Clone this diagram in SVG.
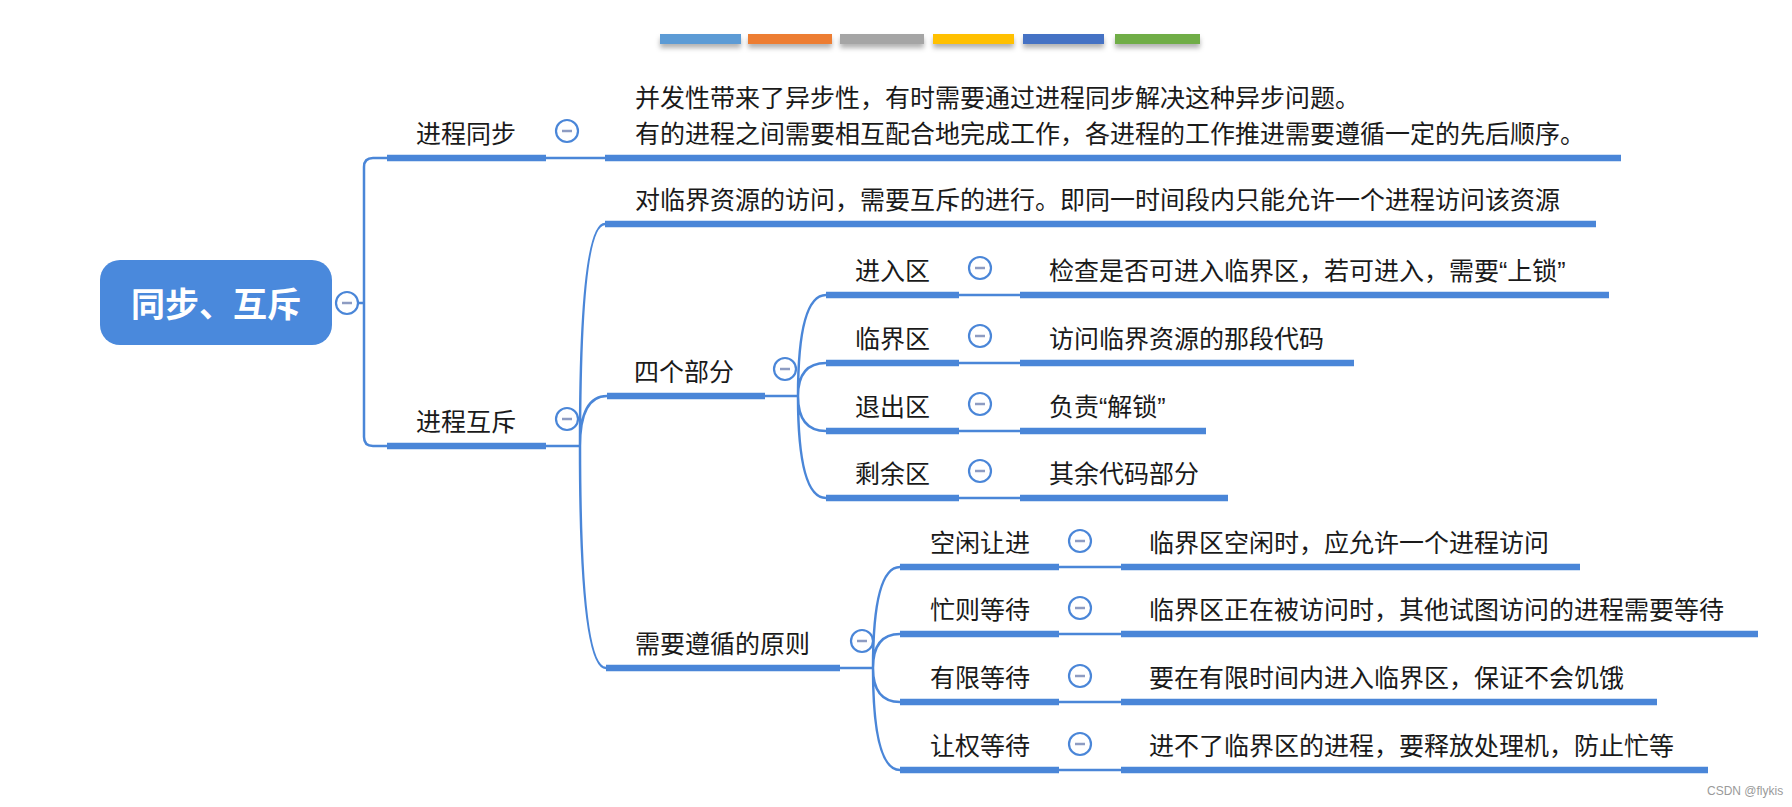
<svg xmlns="http://www.w3.org/2000/svg" width="1792" height="807" viewBox="0 0 1792 807">
<defs>
<filter id="sh" x="-10%" y="-50%" width="120%" height="250%">
<feDropShadow dx="0" dy="4" stdDeviation="2.5" flood-color="#000" flood-opacity="0.3"/>
</filter>
<g id="minus">
<circle r="11" fill="#fff" stroke="#4A86D8" stroke-width="2.2"/>
<line x1="-5" y1="0" x2="5" y2="0" stroke="#8E9CC2" stroke-width="2.5"/>
</g>
</defs>
<style>
.t{font-family:"Noto Sans CJK SC","Noto Sans",sans-serif;font-size:25px;fill:#1a1a1a}
.q{font-family:"Liberation Sans",Arial,sans-serif}
.root{font-family:"Noto Sans CJK SC","Noto Sans",sans-serif;font-size:34px;font-weight:bold;fill:#fff}
.thin{fill:none;stroke:#4A86D8;stroke-width:2.5}
.bar{stroke:#4A86D8;stroke-width:6.5;stroke-linecap:butt}
.wm{font-family:"Liberation Sans",Arial,sans-serif;font-size:12px;fill:#9a9a9a}
</style>
<rect width="1792" height="807" fill="#fff"/>

<g id="colorbars" filter="url(#sh)">
<rect x="660" y="34" width="81" height="10" fill="#5B9BD5"/>
<rect x="748" y="34" width="84" height="10" fill="#ED7D31"/>
<rect x="840" y="34" width="84" height="10" fill="#A5A5A5"/>
<rect x="933" y="34" width="81" height="10" fill="#FFC000"/>
<rect x="1023" y="34" width="81" height="10" fill="#4472C4"/>
<rect x="1115" y="34" width="85" height="10" fill="#70AD47"/>
</g>

<g id="connectors">
<path class="thin" d="M358,303 L364,303 M364,303 L364,167 Q364,158 373,158 L387,158 M364,303 L364,437 Q364,446 373,446 L387,446"/>
<path class="thin" d="M546,158 L605,158 M546,446 L580,446"/>
<path class="thin" d="M580,446 Q580,224 605,224 M580,446 Q580,396 607,396 M580,446 Q580,668 606,668"/>
<path class="thin" d="M765,396 L798,396 M798,396 Q798,295 826,295 M798,396 Q798,363 826,363 M798,396 Q798,431 826,431 M798,396 Q798,498 826,498"/>
<path class="thin" d="M959,295 L1020,295 M959,363 L1020,363 M959,431 L1020,431 M959,498 L1020,498"/>
<path class="thin" d="M840,668 L873,668 M873,668 Q873,567 900,567 M873,668 Q873,634 900,634 M873,668 Q873,702 900,702 M873,668 Q873,770 900,770"/>
<path class="thin" d="M1059,567 L1121,567 M1059,634 L1121,634 M1059,702 L1121,702 M1059,770 L1121,770"/>
</g>

<g id="root">
<rect x="100" y="260" width="232" height="85" rx="20" fill="#4A89DC"/>
<text class="root" x="216" y="317" text-anchor="middle">同步、互斥</text>
<use href="#minus" x="347" y="303"/>
</g>

<g id="n-sync">
<line class="bar" x1="387" y1="158" x2="546" y2="158"/>
<text class="t" x="466" y="142.5" text-anchor="middle">进程同步</text>
<use href="#minus" x="567" y="131"/>
</g>
<g id="n-sync-desc">
<line class="bar" x1="605" y1="158" x2="1621" y2="158"/>
<text class="t" x="635" y="107">并发性带来了异步性，有时需要通过进程同步解决这种异步问题。<tspan x="635" dy="36">有的进程之间需要相互配合地完成工作，各进程的工作推进需要遵循一定的先后顺序。</tspan></text>
</g>

<g id="n-mutex">
<line class="bar" x1="387" y1="446" x2="546" y2="446"/>
<text class="t" x="466" y="430.5" text-anchor="middle">进程互斥</text>
<use href="#minus" x="567" y="419"/>
</g>
<g id="n-mutex-desc">
<line class="bar" x1="605" y1="224" x2="1596" y2="224"/>
<text class="t" x="635" y="208.5">对临界资源的访问，需要互斥的进行。即同一时间段内只能允许一个进程访问该资源</text>
</g>

<g id="n-four">
<line class="bar" x1="607" y1="396" x2="765" y2="396"/>
<text class="t" x="634" y="380.5">四个部分</text>
<use href="#minus" x="785" y="369"/>
</g>
<g id="n-entry">
<line class="bar" x1="826" y1="295" x2="959" y2="295"/>
<text class="t" x="855" y="279.5">进入区</text>
<use href="#minus" x="980" y="268"/>
</g>
<g id="n-entry-desc">
<line class="bar" x1="1020" y1="295" x2="1609" y2="295"/>
<text class="t" x="1049" y="279.5">检查是否可进入临界区，若可进入，需要<tspan class="q">“</tspan>上锁<tspan class="q">”</tspan></text>
</g>
<g id="n-critical">
<line class="bar" x1="826" y1="363" x2="959" y2="363"/>
<text class="t" x="855" y="347.5">临界区</text>
<use href="#minus" x="980" y="336"/>
</g>
<g id="n-critical-desc">
<line class="bar" x1="1020" y1="363" x2="1354" y2="363"/>
<text class="t" x="1049" y="347.5">访问临界资源的那段代码</text>
</g>
<g id="n-exit">
<line class="bar" x1="826" y1="431" x2="959" y2="431"/>
<text class="t" x="855" y="415.5">退出区</text>
<use href="#minus" x="980" y="404"/>
</g>
<g id="n-exit-desc">
<line class="bar" x1="1020" y1="431" x2="1206" y2="431"/>
<text class="t" x="1049" y="415.5">负责<tspan class="q">“</tspan>解锁<tspan class="q">”</tspan></text>
</g>
<g id="n-remainder">
<line class="bar" x1="826" y1="498" x2="959" y2="498"/>
<text class="t" x="855" y="482.5">剩余区</text>
<use href="#minus" x="980" y="471"/>
</g>
<g id="n-remainder-desc">
<line class="bar" x1="1020" y1="498" x2="1228" y2="498"/>
<text class="t" x="1049" y="482.5">其余代码部分</text>
</g>

<g id="n-rules">
<line class="bar" x1="606" y1="668" x2="840" y2="668"/>
<text class="t" x="635" y="652.5">需要遵循的原则</text>
<use href="#minus" x="862" y="641"/>
</g>
<g id="n-idle">
<line class="bar" x1="900" y1="567" x2="1059" y2="567"/>
<text class="t" x="930" y="551.5">空闲让进</text>
<use href="#minus" x="1080" y="541"/>
</g>
<g id="n-idle-desc">
<line class="bar" x1="1121" y1="567" x2="1580" y2="567"/>
<text class="t" x="1149" y="551.5">临界区空闲时，应允许一个进程访问</text>
</g>
<g id="n-busy">
<line class="bar" x1="900" y1="634" x2="1059" y2="634"/>
<text class="t" x="930" y="618.5">忙则等待</text>
<use href="#minus" x="1080" y="608"/>
</g>
<g id="n-busy-desc">
<line class="bar" x1="1121" y1="634" x2="1758" y2="634"/>
<text class="t" x="1149" y="618.5">临界区正在被访问时，其他试图访问的进程需要等待</text>
</g>
<g id="n-bounded">
<line class="bar" x1="900" y1="702" x2="1059" y2="702"/>
<text class="t" x="930" y="686.5">有限等待</text>
<use href="#minus" x="1080" y="676"/>
</g>
<g id="n-bounded-desc">
<line class="bar" x1="1121" y1="702" x2="1657" y2="702"/>
<text class="t" x="1149" y="686.5">要在有限时间内进入临界区，保证不会饥饿</text>
</g>
<g id="n-yield">
<line class="bar" x1="900" y1="770" x2="1059" y2="770"/>
<text class="t" x="930" y="754.5">让权等待</text>
<use href="#minus" x="1080" y="744"/>
</g>
<g id="n-yield-desc">
<line class="bar" x1="1121" y1="770" x2="1708" y2="770"/>
<text class="t" x="1149" y="754.5">进不了临界区的进程，要释放处理机，防止忙等</text>
</g>

<text class="wm" x="1707" y="795">CSDN @flykis</text>
</svg>
